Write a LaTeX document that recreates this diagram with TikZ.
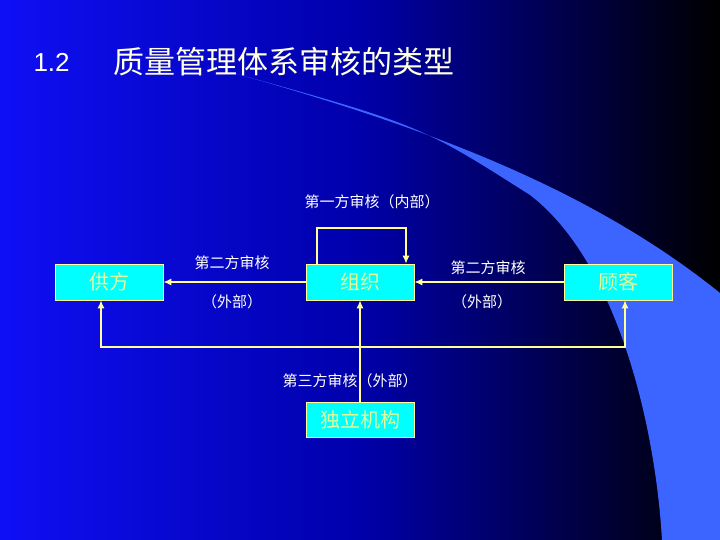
\documentclass[tikz,border=0pt]{standalone}
\usepackage{fontspec}
\newfontfamily\cjk{Noto Sans CJK SC}
\setmainfont{Liberation Sans}
\usetikzlibrary{arrows.meta}
\definecolor{bx}{RGB}{0,255,255}
\definecolor{tx}{RGB}{230,255,150}
\definecolor{ln}{RGB}{255,255,150}
\definecolor{wedge}{RGB}{60,100,255}
\begin{document}
\begin{tikzpicture}[x=1pt,y=-1pt,
  box/.style={draw=ln,line width=0.8pt,fill=bx,minimum width=108pt,minimum height=36pt,inner sep=0pt,text=tx,font=\cjk\fontsize{20}{20}\selectfont},
  lab/.style={text=white,font=\cjk\fontsize{15}{15}\selectfont,inner sep=1pt},
  con/.style={draw=ln,line width=1.2pt,-{Latex[length=8pt,width=7pt]}}]
\useasboundingbox (0,0) rectangle (720,540);
\shade[left color={rgb,255:red,15;green,15;blue,245}, right color=black, middle color={rgb,255:red,0;green,0;blue,170}] (0,0) rectangle (720,540);
\fill[wedge] (230,72) .. controls (400,120) and (580,180) .. (720,293) -- (720,540) -- (662,540)
  .. controls (655,420) and (615,260) .. (530,195) .. controls (420,125) .. (230,72) -- cycle;
\node[anchor=west,text=white,font=\fontsize{26}{26}\selectfont] (num) at (30,62) {1.2};
\node[anchor=west,text={rgb,255:red,255;green,255;blue,225},font=\cjk\fontsize{31}{31}\selectfont] (title) at (110,62) {质量管理体系审核的类型};
\node[box] (gf) at (109,282) {供方};
\node[box] (zz) at (360,282) {组织};
\node[box] (gk) at (618,282) {顾客};
\node[box,minimum height=35pt] (dl) at (360,420) {独立机构};
\coordinate (l1) at (317,228);
\coordinate (l2) at (406,228);
\coordinate (b1) at (101,347);
\coordinate (b2) at (625,347);
\draw[con] (zz.west) -- (gf.east);
\draw[con] (gk.west) -- (zz.east);
\draw[con] (zz.north -| l1) -- (l1) -- (l2) -- (zz.north -| l2);
\draw[con] (dl.north) -- (zz.south);
\draw[con] (b2) -- (b1) -- (gf.south -| b1);
\draw[con] (b1) -- (b2) -- (gk.south -| b2);
\node[lab] (t1) at (372,202) {第一方审核（内部）};
\node[lab] (t2) at (232,263) {第二方审核};
\node[lab] (t3) at (232,302) {（外部）};
\node[lab] (t4) at (488,268) {第二方审核};
\node[lab] (t5) at (482,302) {（外部）};
\node[lab] (t6) at (350,381) {第三方审核（外部）};
\end{tikzpicture}
\end{document}
